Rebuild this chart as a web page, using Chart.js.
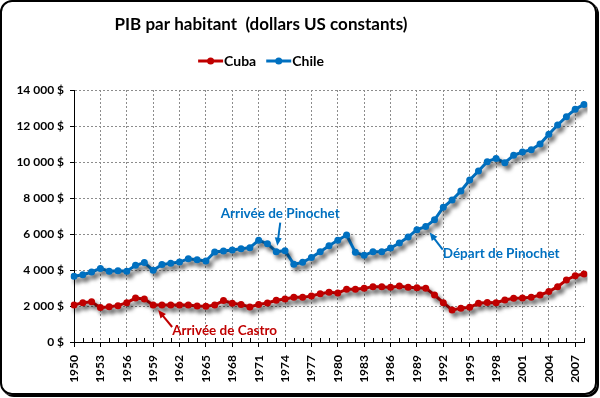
<!DOCTYPE html>
<html lang="fr">
<head>
<meta charset="UTF-8">
<title>PIB par habitant</title>
<script src="https://cdn.jsdelivr.net/npm/chart.js"></script>
<style>
    body { margin: 0; background: #fff; }
    .cadre { position: relative; width: 600px; height: 398px; }
    .bord {
        position: absolute; left: 0; top: 0; width: 597px; height: 395px;
        box-sizing: border-box; border: 2px solid #000; border-radius: 12px;
        box-shadow: 2px 2px 0 0 #000; pointer-events: none;
    }
    canvas { position: absolute; left: 0; top: 0; }
</style>
</head>
<body>
<div class="cadre">
    <canvas id="pib" width="600" height="398"></canvas>
    <div class="bord"></div>
</div>

<script>
    // années (catégories)
    const annees = ['1950','1951','1952','1953','1954','1955','1956','1957','1958','1959',
        '1960','1961','1962','1963','1964','1965','1966','1967','1968','1969',
        '1970','1971','1972','1973','1974','1975','1976','1977','1978','1979',
        '1980','1981','1982','1983','1984','1985','1986','1987','1988','1989',
        '1990','1991','1992','1993','1994','1995','1996','1997','1998','1999',
        '2000','2001','2002','2003','2004','2005','2006','2007','2008'];

    // PIB par habitant (dollars US constants)
    const cuba = [2055,2185,2240,1910,1960,2020,2185,2440,2390,2055,
        2055,2055,2055,2055,2000,1980,2055,2300,2150,2090,
        1945,2090,2165,2315,2390,2480,2480,2560,2685,2760,
        2720,2925,2925,2980,3075,3075,3035,3110,3035,3020,
        2990,2610,2185,1780,1870,1925,2150,2200,2185,2330,
        2425,2445,2480,2610,2800,3075,3445,3685,3780];

    const chili = [3650,3740,3890,4090,3930,3960,3930,4260,4410,3980,
        4300,4370,4440,4630,4570,4500,5000,5055,5110,5185,
        5240,5650,5460,5020,5075,4315,4425,4690,5020,5350,
        5650,5940,4980,4815,5020,5020,5220,5500,5830,6240,
        6410,6790,7480,7890,8390,9000,9500,10020,10200,9960,
        10370,10555,10685,11000,11540,12055,12520,12925,13200];

    const series = ['Cuba', 'Chile'];
    const couleurs = ['#C00000', '#0070C0'];

    // graduations de l'axe Y
    const yMin = 0, yMax = 14000, yPas = 2000;

    // annotations : texte, série, année
    const notes = [
        { texte: 'Arrivée de Castro', serie: 0, annee: '1959' },
        { texte: 'Arrivée de Pinochet', serie: 1, annee: '1973' },
        { texte: 'Départ de Pinochet', serie: 1, annee: '1990' }
    ];

    const police = 'Lato, "Liberation Sans", sans-serif';

    function formatDollar(v) {
        return String(v).replace(/\B(?=(\d{3})+(?!\d))/g, ' ') + ' $';
    }

    function fleche(ctx, x1, y1, x2, y2, couleur) {
        const ang = Math.atan2(y2 - y1, x2 - x1);
        ctx.strokeStyle = couleur;
        ctx.fillStyle = couleur;
        ctx.lineWidth = 2;
        ctx.beginPath();
        ctx.moveTo(x1, y1);
        ctx.lineTo(x2 - 5 * Math.cos(ang), y2 - 5 * Math.sin(ang));
        ctx.stroke();
        ctx.beginPath();
        ctx.moveTo(x2, y2);
        ctx.lineTo(x2 - 8 * Math.cos(ang) + 3.5 * Math.sin(ang), y2 - 8 * Math.sin(ang) - 3.5 * Math.cos(ang));
        ctx.lineTo(x2 - 8 * Math.cos(ang) - 3.5 * Math.sin(ang), y2 - 8 * Math.sin(ang) + 3.5 * Math.cos(ang));
        ctx.closePath();
        ctx.fill();
    }

    // ombre sous les courbes
    const ombre = {
        id: 'ombre',
        beforeDatasetsDraw(chart) {
            const ctx = chart.ctx;
            ctx.save();
            ctx.shadowColor = 'rgba(0,0,0,0.45)';
            ctx.shadowBlur = 4;
            ctx.shadowOffsetX = 3;
            ctx.shadowOffsetY = 4;
        },
        afterDatasetsDraw(chart) {
            chart.ctx.restore();
        }
    };

    // petites graduations intérieures de l'axe X
    const graduations = {
        id: 'graduations',
        afterDraw(chart) {
            const ctx = chart.ctx;
            const sx = chart.scales.x;
            ctx.save();
            ctx.strokeStyle = '#000';
            ctx.lineWidth = 1;
            ctx.beginPath();
            for (let i = 0; i < annees.length; i++) {
                if (i % 3 === 0) continue;
                const x = Math.round(sx.getPixelForTick(i)) + 0.5;
                ctx.moveTo(x, sx.top);
                ctx.lineTo(x, sx.top - 4);
            }
            ctx.stroke();
            ctx.restore();
        }
    };

    // titre, légende et annotations
    const textes = {
        id: 'textes',
        afterDraw(chart) {
            const ctx = chart.ctx;
            const cx = 261;
            ctx.save();
            ctx.textBaseline = 'middle';

            ctx.fillStyle = '#000';
            ctx.font = 'bold 17px ' + police;
            ctx.textAlign = 'center';
            ctx.fillText('PIB par habitant  (dollars US constants)', cx, 25);

            // légende
            ctx.font = 'bold 14px ' + police;
            ctx.textAlign = 'left';
            const ds = chart.data.datasets;
            const largeurs = ds.map(d => 26 + ctx.measureText(d.label).width);
            const total = largeurs.reduce((a, b) => a + b, 0) + 10 * (ds.length - 1);
            let x = cx - total / 2;
            ds.forEach((d, i) => {
                ctx.strokeStyle = d.borderColor;
                ctx.fillStyle = d.borderColor;
                ctx.lineWidth = 3;
                ctx.beginPath();
                ctx.moveTo(x, 61);
                ctx.lineTo(x + 25, 61);
                ctx.stroke();
                ctx.beginPath();
                ctx.arc(x + 12.5, 61, 3.5, 0, Math.PI * 2);
                ctx.fill();
                ctx.fillStyle = '#000';
                ctx.fillText(d.label, x + 26, 61);
                x += largeurs[i] + 10;
            });

            // annotations
            const sx = chart.scales.x, sy = chart.scales.y;
            ctx.font = 'bold 13.5px ' + police;
            notes.forEach((n, k) => {
                const i = annees.indexOf(n.annee);
                const v = chart.data.datasets[n.serie].data[i];
                const px = sx.getPixelForValue(i);
                const py = sy.getPixelForValue(v);
                const c = couleurs[n.serie];
                if (k === 0) {
                    fleche(ctx, px + 19, py + 22, px + 5, py + 5, c);
                    ctx.fillStyle = c;
                    ctx.textAlign = 'left';
                    ctx.fillText(n.texte, px + 19, py + 26);
                } else if (k === 1) {
                    fleche(ctx, px + 4, py - 29, px + 1, py - 6, c);
                    ctx.fillStyle = c;
                    ctx.textAlign = 'center';
                    ctx.fillText(n.texte, px + 4, py - 38);
                } else {
                    fleche(ctx, px + 17, py + 23, px + 4, py + 6, c);
                    ctx.fillStyle = c;
                    ctx.textAlign = 'left';
                    ctx.fillText(n.texte, px + 17, py + 27);
                }
            });
            ctx.restore();
        }
    };

    const ctx = document.getElementById('pib').getContext('2d');
    new Chart(ctx, {
        type: 'line',
        data: {
            labels: annees,
            datasets: [cuba, chili].map((d, i) => ({
                label: series[i],
                data: d,
                borderColor: couleurs[i],
                backgroundColor: couleurs[i],
                borderWidth: 3,
                pointRadius: 3.5,
                pointHoverRadius: 3.5,
                pointBorderWidth: 0,
                tension: 0
            }))
        },
        options: {
            responsive: false,
            animation: false,
            devicePixelRatio: 1,
            layout: { padding: { top: 90, right: 16, left: 0, bottom: 0 } },
            plugins: {
                legend: { display: false },
                tooltip: { enabled: false }
            },
            scales: {
                x: {
                    offset: false,
                    afterFit: s => { s.height = 56; s.paddingLeft = 0; s.paddingRight = 0; },
                    ticks: {
                        autoSkip: false,
                        minRotation: 90,
                        maxRotation: 90,
                        padding: 8,
                        color: '#000',
                        font: { family: police, weight: 'bold', size: 12 },
                        callback: (v, i) => (i % 3 === 0 ? annees[i] : '')
                    },
                    grid: {
                        color: c => (c.index % 3 === 0 ? '#8c8c8c' : 'rgba(0,0,0,0)'),
                        tickColor: c => (c.index % 3 === 0 ? '#000' : 'rgba(0,0,0,0)'),
                        tickLength: 5
                    },
                    border: { color: '#000', width: 1, dash: [2, 2] }
                },
                y: {
                    min: yMin,
                    max: yMax,
                    afterFit: s => { s.width = 74; s.paddingTop = 0; s.paddingBottom = 0; },
                    ticks: {
                        stepSize: yPas,
                        padding: 6,
                        color: '#000',
                        font: { family: police, weight: 'bold', size: 12 },
                        callback: v => formatDollar(v)
                    },
                    grid: { color: '#8c8c8c', tickColor: '#000', tickLength: 4 },
                    border: { color: '#000', width: 1, dash: [2, 2] }
                }
            }
        },
        plugins: [ombre, graduations, textes]
    });
</script>
</body>
</html>
